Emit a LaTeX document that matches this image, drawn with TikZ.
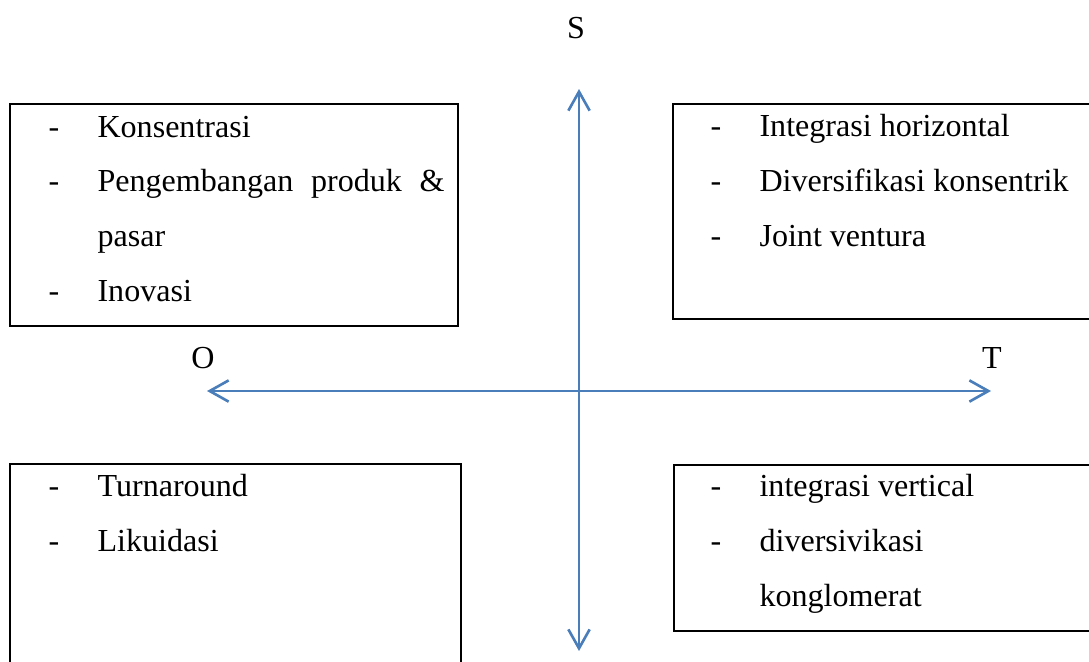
\documentclass[tikz,border=0pt]{standalone}
\usepackage{fontspec}
\setmainfont{Liberation Serif}
\usetikzlibrary{arrows.meta}
\definecolor{axisblue}{HTML}{4A7EBB}
\newcommand{\butir}{\makebox[16.8pt][l]{-}}

\begin{document}
\begin{tikzpicture}[x=0.343pt,y=-0.343pt,
  quadrant/.style={draw,line width=0.8pt,anchor=north west,inner sep=0pt},
  items/.style={anchor=base west,align=left,inner sep=0pt,
    font=\fontsize{11}{18.7}\selectfont},
  pole/.style={inner sep=0pt,font=\fontsize{11}{13}\selectfont},
  axis/.style={{Straight Barb[length=6.5pt,width=7.3pt]}-{Straight Barb[length=6.5pt,width=7.3pt]},
    axisblue,line width=0.9pt}
]
  \useasboundingbox (0,0) rectangle (1089,661);
  \clip (0,0) rectangle (1089,661);

  \node[quadrant,minimum width=153.7pt,minimum height=76.1pt] (SO) at (9,103) {};
  \node[quadrant,minimum width=150.9pt,minimum height=73.7pt] (ST) at (672,103) {};
  \node[quadrant,minimum width=154.7pt,minimum height=81.3pt] (OW) at (9,463) {};
  \node[quadrant,minimum width=150.9pt,minimum height=56.9pt] (WT) at (673,464) {};

  % base anchor sits on the last line
  \node[items] (SOtext) at (48,301)
    {\butir Konsentrasi\\
     \butir\makebox[119pt][s]{Pengembangan produk \&}\\
     \hspace{16.8pt}pasar\\
     \butir Inovasi};
  \node[items] (STtext) at (710,246)
    {\butir Integrasi horizontal\\
     \butir Diversifikasi konsentrik\\
     \butir Joint ventura};
  \node[items] (OWtext) at (48,551)
    {\butir Turnaround\\
     \butir Likuidasi};
  \node[items] (WTtext) at (710,606)
    {\butir integrasi vertical\\
     \butir diversivikasi\\
     \hspace{16.8pt}konglomerat};

  \node[pole] (S) at (576,28) {S};
  \node[pole] (O) at (203,358) {O};
  \node[pole] (T) at (992,358) {T};

  \coordinate (up) at (579,89);
  \coordinate (down) at (579,651);
  \coordinate (left) at (207,391);
  \coordinate (right) at (991,391);

  \draw[axis] (down) -- (up);
  \draw[axis] (left) -- (right);
\end{tikzpicture}
\end{document}
